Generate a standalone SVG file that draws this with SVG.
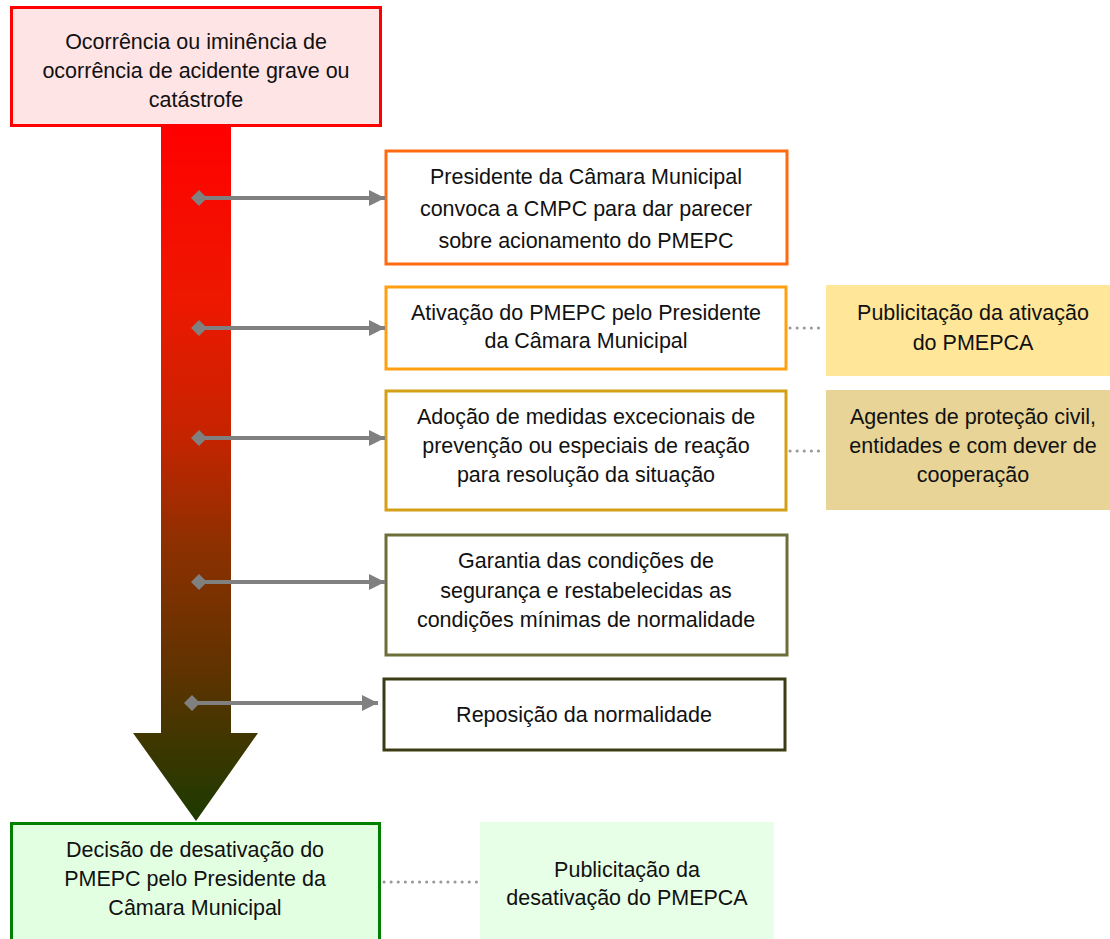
<svg xmlns="http://www.w3.org/2000/svg" width="1110" height="939" viewBox="0 0 1110 939">
<defs>
<linearGradient id="flow" gradientUnits="userSpaceOnUse" x1="0" y1="126" x2="0" y2="821">
<stop offset="0" stop-color="#FF0000"/>
<stop offset="0.25" stop-color="#EE1800"/>
<stop offset="0.45" stop-color="#C42400"/>
<stop offset="0.6" stop-color="#8E3000"/>
<stop offset="0.78" stop-color="#603300"/>
<stop offset="1" stop-color="#1C3A00"/>
</linearGradient>
<marker id="arr" viewBox="0 0 10 10" refX="10" refY="5" markerWidth="4" markerHeight="4" markerUnits="strokeWidth" orient="auto">
<path d="M0,0 L10,5 L0,10 z" fill="#808080"/>
</marker>
<marker id="dia" viewBox="0 0 10 10" refX="5" refY="5" markerWidth="4" markerHeight="4" markerUnits="strokeWidth" orient="auto">
<path d="M0,5 L5,0 L10,5 L5,10 z" fill="#808080"/>
</marker>
</defs>
<style>
text{font-family:"Liberation Sans",Arial,sans-serif;font-size:21.5px;fill:#111;text-anchor:middle}
.box{fill:#fff;stroke-width:3}
.conn{stroke:#808080;stroke-width:4;fill:none}
.dot{stroke:#999;stroke-width:3;stroke-dasharray:0.1 7;stroke-linecap:round;fill:none}
</style>
<g id="flow-arrow">
<path d="M161,126 H231 V733 H258 L196,821 L133,733 H161 Z" fill="url(#flow)"/>
</g>
<g id="n-start">
<rect x="11.5" y="7.5" width="369" height="118" fill="#FFE4E6" stroke="#FF0000" stroke-width="3"/>
<text x="196" y="49">Ocorrência ou iminência de</text>
<text x="196" y="78">ocorrência de acidente grave ou</text>
<text x="196" y="107">catástrofe</text>
</g>
<g id="n-1">
<rect class="box" x="386" y="151" width="401" height="113" stroke="#FF6A10"/>
<text x="586" y="184">Presidente da Câmara Municipal</text>
<text x="586" y="216">convoca a CMPC para dar parecer</text>
<text x="586" y="248">sobre acionamento do PMEPC</text>
</g>
<g id="n-2">
<rect class="box" x="386" y="287" width="400" height="82" stroke="#FFA010"/>
<text x="586" y="320">Ativação do PMEPC pelo Presidente</text>
<text x="586" y="348">da Câmara Municipal</text>
</g>
<g id="n-3">
<rect class="box" x="386" y="391" width="400" height="119" stroke="#D4A017"/>
<text x="586" y="424">Adoção de medidas excecionais de</text>
<text x="586" y="453">prevenção ou especiais de reação</text>
<text x="586" y="482">para resolução da situação</text>
</g>
<g id="n-4">
<rect class="box" x="386" y="535" width="401" height="120" stroke="#6E6E3A"/>
<text x="586" y="568">Garantia das condições de</text>
<text x="586" y="598">segurança e restabelecidas as</text>
<text x="586" y="627">condições mínimas de normalidade</text>
</g>
<g id="n-5">
<rect class="box" x="384" y="679" width="401" height="71" stroke="#3C3C14"/>
<text x="584" y="722">Reposição da normalidade</text>
</g>
<g id="n-pub-ativ">
<rect x="826" y="285" width="284" height="91" fill="#FFE699"/>
<text x="973" y="320">Publicitação da ativação</text>
<text x="973" y="350">do PMEPCA</text>
</g>
<g id="n-agentes">
<rect x="826" y="390" width="284" height="120" fill="#E8D496"/>
<text x="973" y="424">Agentes de proteção civil,</text>
<text x="973" y="453">entidades e com dever de</text>
<text x="973" y="482">cooperação</text>
</g>
<g id="n-end">
<rect x="11.5" y="823.5" width="368" height="120" fill="#E2FFE2" stroke="#008000" stroke-width="3"/>
<text x="195" y="857">Decisão de desativação do</text>
<text x="195" y="886">PMEPC pelo Presidente da</text>
<text x="195" y="915">Câmara Municipal</text>
</g>
<g id="n-pub-desativ">
<rect x="480" y="822" width="294" height="117" fill="#E6FFE6"/>
<text x="627" y="877">Publicitação da</text>
<text x="627" y="905">desativação do PMEPCA</text>
</g>
<g id="connectors">
<line class="conn" x1="199" y1="198" x2="385" y2="198" marker-start="url(#dia)" marker-end="url(#arr)"/>
<line class="conn" x1="199" y1="328" x2="385" y2="328" marker-start="url(#dia)" marker-end="url(#arr)"/>
<line class="conn" x1="199" y1="438" x2="385" y2="438" marker-start="url(#dia)" marker-end="url(#arr)"/>
<line class="conn" x1="199" y1="582" x2="385" y2="582" marker-start="url(#dia)" marker-end="url(#arr)"/>
<line class="conn" x1="192" y1="703" x2="378" y2="703" marker-start="url(#dia)" marker-end="url(#arr)"/>
<line class="dot" x1="790" y1="328" x2="822" y2="328"/>
<line class="dot" x1="790" y1="451" x2="822" y2="451"/>
<line class="dot" x1="384" y1="882" x2="478" y2="882"/>
</g>
</svg>
